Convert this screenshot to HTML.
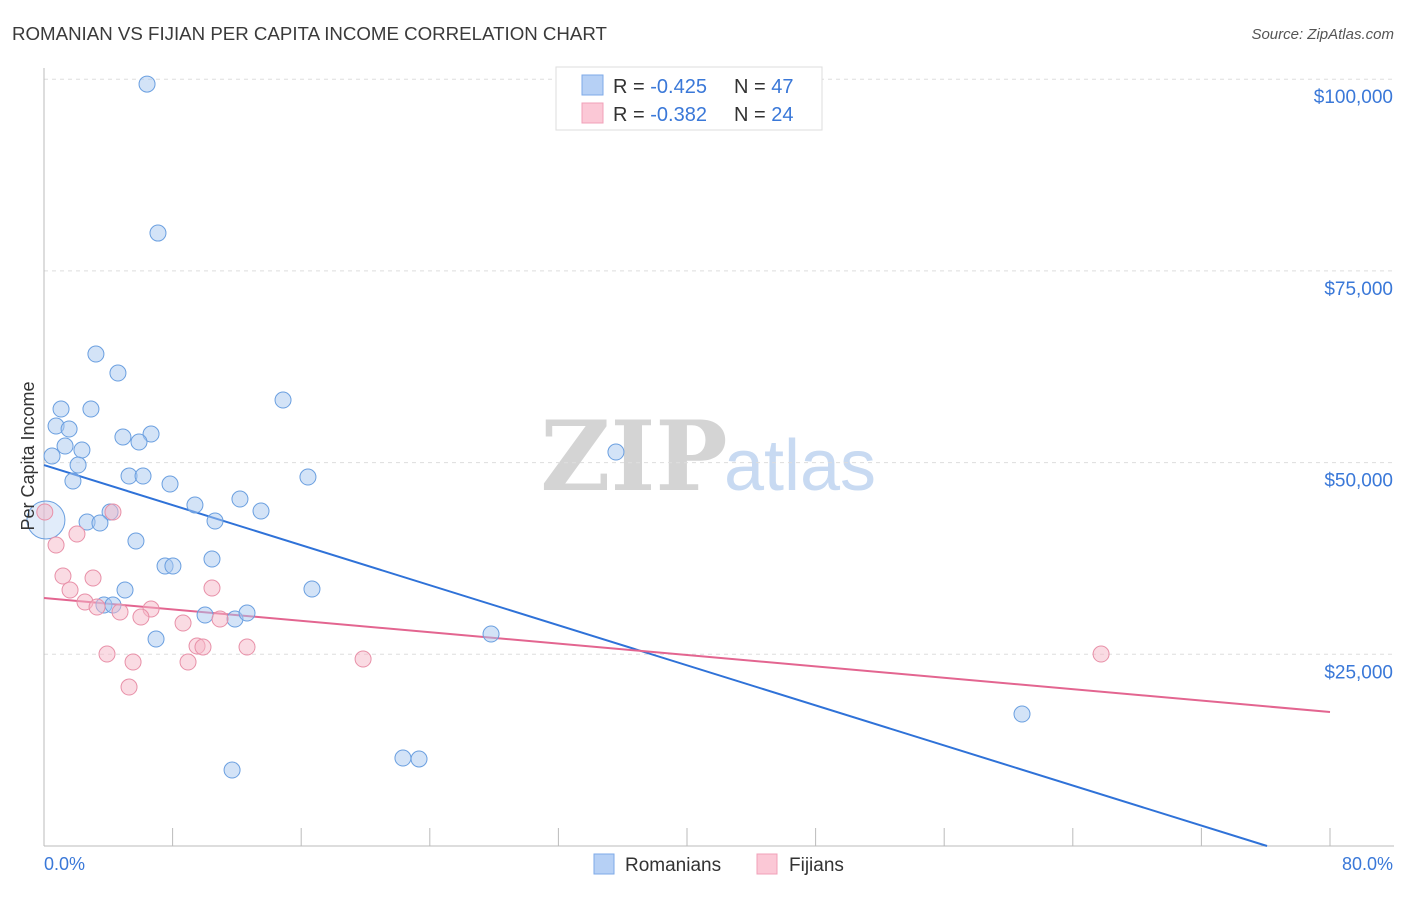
<!DOCTYPE html>
<html><head><meta charset="utf-8"><style>
body{margin:0;background:#fff;font-family:"Liberation Sans",sans-serif;}
svg text{font-family:"Liberation Sans",sans-serif;}
</style></head><body>
<svg id="chart" width="1406" height="892" xmlns="http://www.w3.org/2000/svg">
<text x="12" y="40" font-size="18.7" fill="#3a3a3a">ROMANIAN VS FIJIAN PER CAPITA INCOME CORRELATION CHART</text>
<text x="1394" y="39" font-size="15" fill="#555" font-style="italic" text-anchor="end">Source: ZipAtlas.com</text>
<g>
<text x="634" y="490" font-size="96" fill="#d4d4d4" text-anchor="middle" style="font-family:'DejaVu Serif',serif" font-weight="bold">ZIP</text>
<text x="800" y="490" font-size="72" fill="#c8daf2" text-anchor="middle">atlas</text>
</g>
<g id="grid"></g>
<g id="axes"></g>
<g id="lines"></g>
<g id="points"></g>
<text transform="translate(34,456) rotate(-90)" font-size="18" fill="#333" text-anchor="middle">Per Capita Income</text>
<text x="44" y="870" font-size="18" fill="#3a78d8">0.0%</text>
<text x="1393" y="870" font-size="18" fill="#3a78d8" text-anchor="end">80.0%</text>
<g>
<rect x="556" y="67" width="266" height="63" fill="#fff" stroke="#ddd"/>
<rect x="582" y="75" width="21" height="20" fill="#b6d0f5" stroke="#7eaae8"/>
<rect x="582" y="103" width="21" height="20" fill="#fbc8d6" stroke="#f0a0b8"/>
<text x="613" y="93" font-size="20" fill="#333">R = <tspan fill="#3a78d8">-0.425</tspan></text>
<text x="734" y="93" font-size="20" fill="#333">N = <tspan fill="#3a78d8">47</tspan></text>
<text x="613" y="121" font-size="20" fill="#333">R = <tspan fill="#3a78d8">-0.382</tspan></text>
<text x="734" y="121" font-size="20" fill="#333">N = <tspan fill="#3a78d8">24</tspan></text>
</g>
<g>
<rect x="594" y="854" width="20" height="20" fill="#b6d0f5" stroke="#7eaae8"/>
<text x="625" y="871" font-size="19" fill="#333">Romanians</text>
<rect x="757" y="854" width="20" height="20" fill="#fbc8d6" stroke="#f0a0b8"/>
<text x="789" y="871" font-size="19" fill="#333">Fijians</text>
</g>
</svg>
<script>
const yTicks=[25000,50000,75000,100000];
const yTickLabels=["$25,000","$50,000","$75,000","$100,000"];
const xTicks=[0,8,16,24,32,40,48,56,64,72,80];
const romX=[6.41,7.09,3.23,4.60,14.87,1.06,2.92,0.75,1.56,4.91,6.66,5.91,1.31,2.36,0.50,2.12,5.29,6.16,16.42,1.80,7.84,35.58,12.19,9.39,13.50,4.11,2.68,3.48,10.64,5.72,10.45,7.53,8.02,16.67,5.04,3.73,4.29,10.02,11.88,12.63,27.81,6.97,60.84,22.33,23.33,11.70,0.12];
const romY=[99365,79935,64157,61679,58158,56985,56985,54768,54377,53334,53725,52682,52160,51638,50856,49682,48248,48248,48118,47596,47205,51378,45249,44466,43684,43554,42250,42119,42380,39772,37425,36512,36512,33513,33382,31426,31426,30122,29601,30383,27645,26993,17213,11475,11345,9910,42510];
const fijX=[0.05,0.75,2.05,4.29,1.18,3.05,1.62,2.55,3.30,4.73,6.66,6.03,10.45,8.65,10.95,9.52,9.89,12.63,3.92,5.54,8.96,19.85,5.29,65.76];
const fijY=[43554,39250,40685,43554,35208,34947,33382,31818,31166,30514,30905,29862,33643,29079,29601,26080,25950,25950,25037,23994,23994,24385,20734,25037];
const romTrend=[49682,-653];
const fijTrend=[32339,-185.8];
const X=v=>44+v/80*1286;
const Y=v=>846-v/25000*191.7;
const NS="http://www.w3.org/2000/svg";
function mk(tag,parent,attrs){const e=document.createElementNS(NS,tag);for(const k in attrs)e.setAttribute(k,attrs[k]);document.getElementById(parent).appendChild(e);return e;}
yTicks.forEach((t,i)=>{
 const l=mk('line','grid',{x1:44,x2:1394,y1:Y(t),y2:Y(t),stroke:'#ddd','stroke-dasharray':'4,4'});
 
 
 const tx=mk('text','grid',{x:1393,y:Y(t)+24,'font-size':19,fill:'#3a78d8','text-anchor':'end'});
 tx.textContent=yTickLabels[i];
 
 
});
const ya=mk('line','axes',{x1:44,x2:44,y1:68,y2:846,stroke:'#bbb'});


const xa=mk('line','axes',{x1:44,x2:1394,y1:846,y2:846,stroke:'#bbb'});


xTicks.forEach(t=>{
 const l=mk('line','axes',{x1:X(t),x2:X(t),y1:828,y2:846,stroke:'#bbb'});
 
 
});
function pts(xs,ys,fill,stroke,name){
 xs.forEach((x,i)=>{
  const big=(name==='romanian-point'&&i===xs.length-1);
  const c=mk('circle','points',{cx:X(x),cy:Y(ys[i]),r:big?19:8,fill:fill,'fill-opacity':big?0.35:0.5,stroke:stroke,'stroke-width':1});
  
  
 });
}
pts(romX,romY,'#a8c8f0','#6a9fe0','romanian-point');
pts(fijX,fijY,'#f5b8c8','#e890a8','fijian-point');
const rEnd=-romTrend[0]/romTrend[1];
const bl=mk('line','lines',{x1:X(0),y1:Y(romTrend[0]),x2:X(rEnd),y2:Y(0),stroke:'#2f72d8','stroke-width':2});


const pl=mk('line','lines',{x1:X(0),y1:Y(fijTrend[0]),x2:X(80),y2:Y(fijTrend[0]+fijTrend[1]*80),stroke:'#e36590','stroke-width':2});


</script>
</body></html>
